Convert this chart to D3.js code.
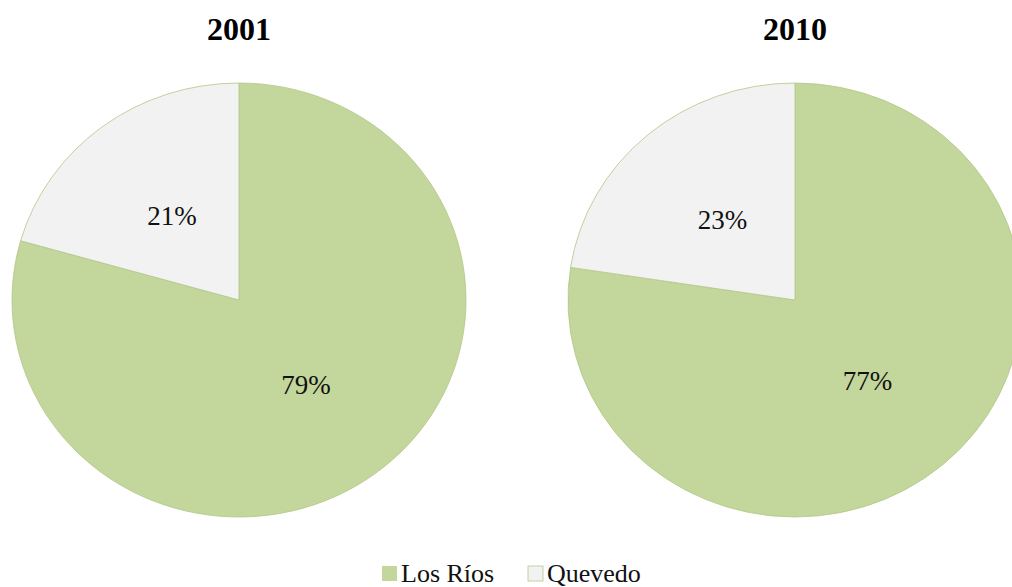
<!DOCTYPE html>
<html>
<head>
<meta charset="utf-8">
<script src="https://cdn.jsdelivr.net/npm/d3@7"></script>
<style>
  body { margin: 0; background: #fff; }
  svg { display: block; font-family: "Liberation Serif", "Times New Roman", serif; }
</style>
</head>
<body>
<script>
// chart data
var years = ["2001", "2010"];
var categories = ["Los Ríos", "Quevedo"];
var values2001 = [79.4, 20.6];
var values2010 = [77.4, 22.6];
var colors = ["#c3d69b", "#f2f2f2"];

var width = 1012, height = 587;
var ry = 217, rx = 227, sx = rx / ry;
var centers = [[239, 300], [795, 300]];

var svg = d3.select("body").append("svg")
    .attr("width", width)
    .attr("height", height);

var color = d3.scaleOrdinal().domain(categories).range(colors);

// pie starts at 12 o'clock, clockwise
var pie = d3.pie().sort(null).value(function(d) { return d.value; });
var arc = d3.arc().innerRadius(0).outerRadius(ry);
var labelArc = d3.arc().innerRadius(ry * 0.49).outerRadius(ry * 0.49);

[values2001, values2010].forEach(function(vals, i) {
  var data = categories.map(function(c, j) { return {name: c, value: vals[j]}; });
  var arcs = pie(data);
  var total = d3.sum(vals);

  var g = svg.append("g")
    .attr("transform", "translate(" + centers[i][0] + "," + centers[i][1] + ")");

  g.append("g")
    .attr("transform", "scale(" + sx + ",1)")
    .selectAll("path")
    .data(arcs)
    .enter().append("path")
    .attr("d", arc)
    .attr("fill", function(d) { return color(d.data.name); })
    .attr("stroke", "#b3c889")
    .attr("stroke-width", 0.8);

  g.selectAll(".lbl")
    .data(arcs)
    .enter().append("text")
    .attr("class", "lbl")
    .attr("x", function(d) { return labelArc.centroid(d)[0] * sx; })
    .attr("y", function(d) { return labelArc.centroid(d)[1]; })
    .attr("text-anchor", "middle")
    .attr("dy", "0.35em")
    .style("font-size", "27px")
    .attr("fill", "#111")
    .text(function(d) { return Math.round(d.data.value / total * 100) + "%"; });

  svg.append("text")
    .attr("x", centers[i][0])
    .attr("y", 40)
    .attr("text-anchor", "middle")
    .style("font-size", "32px")
    .style("font-weight", "bold")
    .text(years[i]);
});

// legend
var legendX = [382, 528];
var legend = svg.selectAll(".legend")
  .data(categories)
  .enter().append("g")
  .attr("class", "legend")
  .attr("transform", function(d, i) { return "translate(" + legendX[i] + ",566)"; });

legend.append("rect")
  .attr("width", 15)
  .attr("height", 15)
  .attr("fill", function(d) { return color(d); })
  .attr("stroke", function(d, i) { return i ? "#b3c889" : "none"; })
  .attr("stroke-width", 0.8);

legend.append("text")
  .attr("x", 19)
  .attr("y", 16)
  .style("font-size", "26px")
  .attr("fill", "#111")
  .text(function(d) { return d; });
</script>
</body>
</html>
